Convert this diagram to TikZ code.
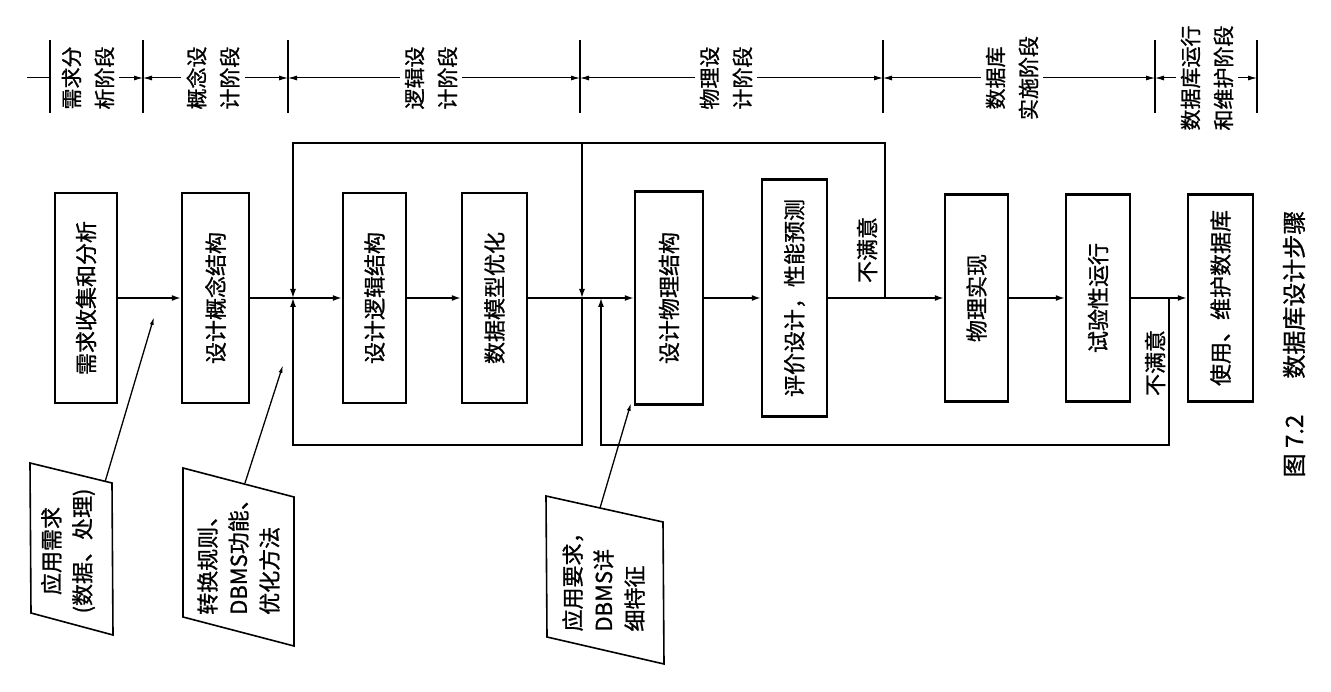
\documentclass[tikz,border=0pt]{standalone}
\usepackage{fontspec}
\setmainfont{Noto Sans CJK SC}[FakeBold=1]
\usepackage{tikz}
\usetikzlibrary{arrows.meta,positioning,calc}

\tikzset{
  stepbox/.style={draw, line width=2.4pt, rotate=90, inner sep=0pt,
    minimum width=210pt, minimum height=64pt, font=\fontsize{22}{26}\selectfont},
  phase/.style={rotate=90, align=center, inner sep=5pt, font=\fontsize{21}{33}\selectfont},
  notetext/.style={rotate=90, inner sep=0pt, font=\fontsize{22}{31}\selectfont},
  notebox/.style={line width=1.6pt, line join=miter},
  flowline/.style={line width=1.6pt, -{Latex[length=9pt,width=6pt]}},
  backline/.style={line width=1.4pt, -{Latex[length=9pt,width=6pt]}},
  phaseline/.style={line width=1pt, -{Latex[length=9pt,width=5pt]}},
  tickline/.style={line width=2.2pt},
  leadline/.style={line width=1.3pt, -{Latex[length=8pt,width=4pt]}},
}

\begin{document}
\begin{tikzpicture}[x=1pt, y=-1pt]
    \useasboundingbox (0,0) rectangle (1331,692);

    % Phase bar
    \foreach \x [count=\i] in {50,143,288,580,883,1155,1257}{
      \coordinate (t\i) at (\x,78);
      \draw[tickline] (\x,40) -- (\x,113);
    }
    \coordinate (t0) at (27,78);
    \node[phase] (ph1) at (88,78) {需求分\\析阶段};
    \node[phase] (ph2) at (213,78) {概念设\\计阶段};
    \node[phase] (ph3) at (431,78) {逻辑设\\计阶段};
    \node[phase] (ph4) at (726,78) {物理设\\计阶段};
    \node[phase] (ph5) at (1012,78) {数据库\\实施阶段};
    \node[phase] (ph6) at (1207,78) {数据库运行\\和维护阶段};
    \draw[line width=1pt] (t0) -- (t1);
    \draw[phaseline] (ph1) -- (t2);
    \draw[phaseline] (ph2) -- (t2);
    \draw[phaseline] (ph2) -- (t3);
    \draw[phaseline] (ph3) -- (t3);
    \draw[phaseline] (ph3) -- (t4);
    \draw[phaseline] (ph4) -- (t4);
    \draw[phaseline] (ph4) -- (t5);
    \draw[phaseline] (ph5) -- (t5);
    \draw[phaseline] (ph5) -- (t6);
    \draw[phaseline] (ph6) -- (t6);
    \draw[phaseline] (ph6) -- (t7);

    % Design steps
    \node[stepbox, minimum height=62pt] (reqana) at (86,298) {需求收集和分析};
    \node[stepbox, minimum height=67pt] (concept) at (215.5,298) {设计概念结构};
    \node[stepbox, minimum height=63pt] (logic) at (374.5,298) {设计逻辑结构};
    \node[stepbox, minimum height=65pt] (optim) at (494.5,298) {数据模型优化};
    \node[stepbox, minimum height=68pt, minimum width=213pt] (physic) at (669,298) {设计物理结构};
    \node[stepbox, minimum height=65pt, minimum width=237pt] (evalu) at (794.5,298) {评价设计，性能预测};
    \node[stepbox, minimum height=63pt, minimum width=207pt] (impl) at (976.5,298) {物理实现};
    \node[stepbox, minimum height=64pt, minimum width=207pt] (trial) at (1098,298) {试验性运行};
    \node[stepbox, minimum height=65pt, minimum width=207pt] (maint) at (1220.5,298) {使用、维护数据库};

    \draw[flowline] (reqana) -- (concept);
    \draw[flowline] (concept) -- (logic);
    \draw[flowline] (logic) -- (optim);
    \draw[flowline] (optim) -- (physic);
    \draw[flowline] (physic) -- (evalu);
    \draw[flowline] (evalu) -- (impl);
    \draw[flowline] (impl) -- (trial);
    \draw[flowline] (trial) -- (maint);

    % Feedback loops
    \coordinate (upper) at (0,143);
    \coordinate (lower) at (0,445);
    \coordinate (jl) at (293,298);
    \coordinate (jm) at (582,298);
    \coordinate (jr) at (601,298);
    \coordinate (je) at (885,298);
    \coordinate (jt) at (1169,298);
    \draw[backline] (je) -- (je |- upper) -| (jl);
    \draw[backline] (jm |- upper) -- (jm);
    \draw[backline] (jm) -- (jm |- lower) -| (jl);
    \draw[backline] (jt) -- (jt |- lower) -| (jr);
    \node[phase, inner sep=0pt, font=\fontsize{22}{26}\selectfont] (nsat1) at (867,250) {不满意};
    \node[phase, inner sep=0pt, font=\fontsize{22}{26}\selectfont] (nsat2) at (1155,363) {不满意};

    % Inputs
    \draw[notebox] (30,463) -- (112,483) -- (113,635) -- (31,613) -- cycle;
    \node[notetext, align=center] (needs) at (68,551) {应用需求\\(数据、处理)};
    \draw[notebox] (183,468) -- (294,497) -- (294,646) -- (183,617) -- cycle;
    \node[notetext, align=left] (rules) at (238.5,551.5) {转换规则、\\DBMS功能、\\优化方法};
    \draw[notebox] (546,496) -- (663,522) -- (664,664) -- (547,637) -- cycle;
    \node[notetext, align=left] (feats) at (603.5,576.5) {应用要求，\\DBMS详\\细特征};
    \coordinate (needsfoot) at (105,482);
    \coordinate (needstip) at (154,317);
    \coordinate (rulesfoot) at (245,483);
    \coordinate (rulestip) at (283,365);
    \coordinate (featsfoot) at (600,508);
    \coordinate (featstip) at (631,403);
    \draw[leadline] (needsfoot) -- (needstip);
    \draw[leadline] (rulesfoot) -- (rulestip);
    \draw[leadline] (featsfoot) -- (featstip);

    % Caption
    \node[rotate=90, font=\fontsize{24}{28}\selectfont] (caption) at (1294,344) {图 7.2\hspace{1.5em}数据库设计步骤};
\end{tikzpicture}
\end{document}
